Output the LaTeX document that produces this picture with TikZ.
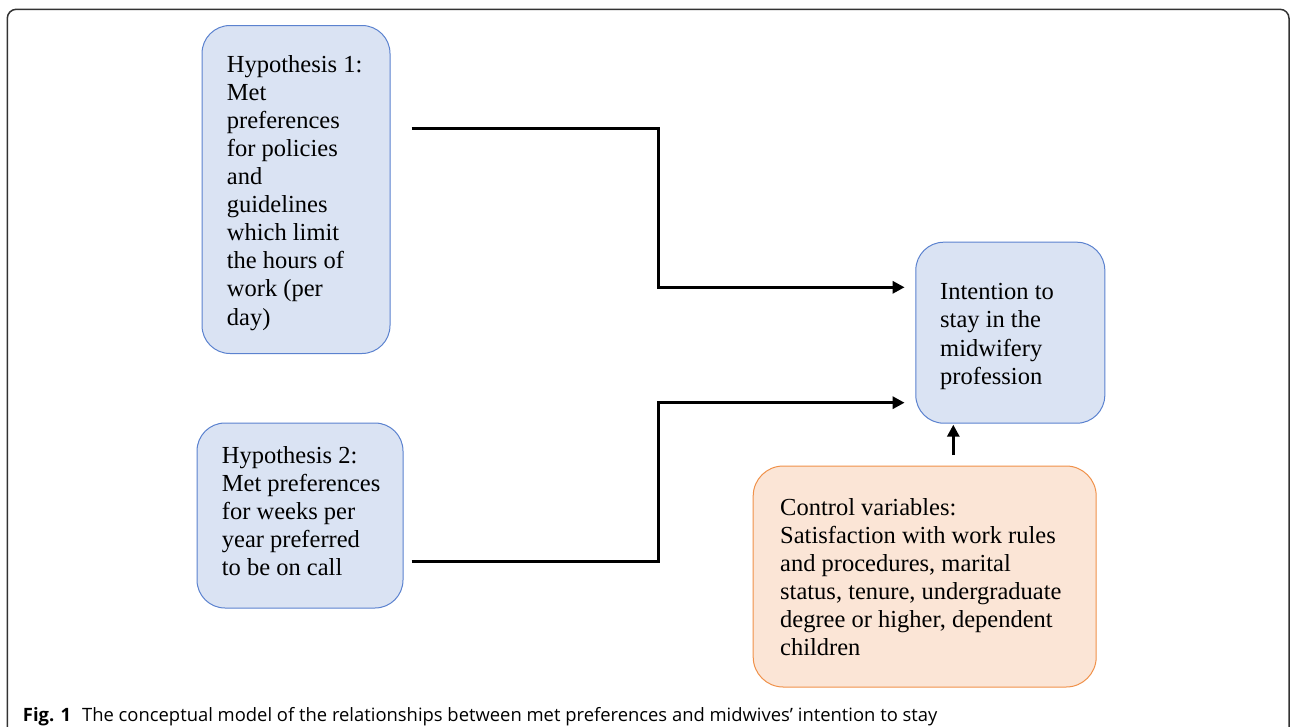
\documentclass[tikz,border=0pt]{standalone}
\usepackage{fontspec}
\setmainfont{Liberation Serif}
\newfontfamily\capfont{Open Sans}
\usetikzlibrary{arrows.meta,calc}
\definecolor{bluefill}{HTML}{DAE3F3}
\definecolor{blueline}{HTML}{5B82CF}
\definecolor{orfill}{HTML}{FBE5D6}
\definecolor{orline}{HTML}{F0914A}
\definecolor{framegray}{HTML}{333333}
\tikzset{
  hbox/.style={draw=blueline, fill=bluefill, line width=1pt, rounded corners=28pt, inner sep=0pt},
  obox/.style={draw=orline, fill=orfill, line width=1pt, rounded corners=30pt, inner sep=0pt},
  btext/.style={anchor=north west, align=left, inner sep=0pt, font=\fontsize{24.5}{28.1}\selectfont},
  conn/.style={line width=3pt, -{Triangle[length=12pt,width=12pt]}},
  plain/.style={line width=3pt}
}
\begin{document}
\begin{tikzpicture}[x=1pt,y=-1pt]
\useasboundingbox (0,0) rectangle (1290,726);
\draw[framegray, line width=1.5pt, rounded corners=9pt] (7.3,735) -- (7.3,9.3) -- (1289,9.3) -- (1289,735);
% boxes
\node[hbox, minimum width=188pt, minimum height=328pt] (h1) at (296,189.5) {};
\node[hbox, minimum width=206pt, minimum height=185pt] (h2) at (300,515.5) {};
\node[hbox, minimum width=189pt, minimum height=181pt] (int) at (1010.3,332.7) {};
\node[obox, minimum width=343pt, minimum height=221pt] (ctrl) at (924.7,576.5) {};
% texts
\node[btext] (t1) at (226.7,52.3) {\strut Hypothesis 1:\\Met\\preferences\\for policies\\and\\guidelines\\which limit\\the hours of\\work (per\\day)};
\node[btext] (t2) at (221.7,443.3) {\strut Hypothesis 2:\\Met preferences\\for weeks per\\year preferred\\to be on call};
\node[btext] (t3) at (940,280) {\strut Intention to\\stay in the\\midwifery\\profession};
\node[btext] (t4) at (780,495.3) {\strut Control variables:\\Satisfaction with work rules\\and procedures, marital\\status, tenure, undergraduate\\degree or higher, dependent\\children};
% connectors
\coordinate (c1) at (411.7,128.3);
\coordinate (c2) at (411.7,561);
\coordinate (c3) at (953.3,455);
\draw[conn] (c1) -- (658.3,128.3) |- ([xshift=-10.7pt,yshift=45.4pt]int.west);
\draw[conn] (c2) -- (658.3,561) |- ([xshift=-10.7pt,yshift=-70pt]int.west);
\draw[conn] (c3) -- ([yshift=-1pt]c3 |- int.south);
% caption
\node[anchor=base west, inner sep=0pt, font=\capfont\fontsize{18.4}{22}\selectfont] (cap) at (22.7,721) {\textbf{Fig. 1}\hspace{0.6em}The conceptual model of the relationships between met preferences and midwives’ intention to stay};
\end{tikzpicture}
\end{document}
